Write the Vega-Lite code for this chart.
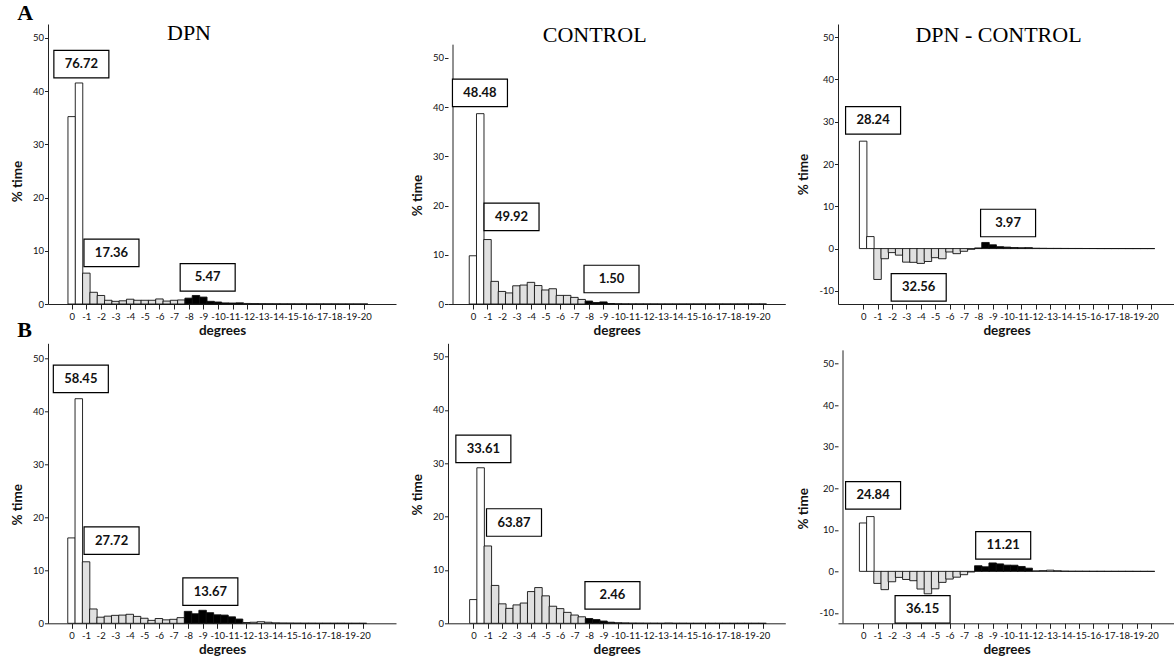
{
  "$schema": "https://vega.github.io/schema/vega-lite/v6.json",
  "padding": {"left": 10, "top": 1, "right": 0, "bottom": 0},
  "background": "white",
  "config": {
    "view": {"stroke": null},
    "title": {"font": "Liberation Serif", "fontSize": 22, "fontWeight": "normal", "color": "#000", "anchor": "middle", "frame": "group", "baseline": "alphabetic"},
    "axis": {"domainColor": "#222", "tickColor": "#222", "labelColor": "#111", "titleColor": "#111", "labelFont": "Lato", "titleFont": "Lato", "labelFontSize": 9.5, "titleFontSize": 13.5, "titleFontWeight": "bold", "grid": false, "labelOverlap": false, "labelFlush": false},
    "axisX": {"tickSize": 5, "labelPadding": 2, "titlePadding": 3, "tickCount": 25},
    "axisY": {"tickSize": 3.5, "labelPadding": 1, "titlePadding": 8, "tickCount": 10}
  },
  "datasets": {
    "A_DPN": [{"deg":0,"pct":35.2},{"deg":-0.5,"pct":41.52},{"deg":-1,"pct":5.8},{"deg":-1.5,"pct":2.2},{"deg":-2,"pct":1.6},{"deg":-2.5,"pct":0.7},{"deg":-3,"pct":0.5},{"deg":-3.5,"pct":0.6},{"deg":-4,"pct":0.9},{"deg":-4.5,"pct":0.7},{"deg":-5,"pct":0.7},{"deg":-5.5,"pct":0.7},{"deg":-6,"pct":0.95},{"deg":-6.5,"pct":0.55},{"deg":-7,"pct":0.7},{"deg":-7.5,"pct":0.76},{"deg":-8,"pct":1.1},{"deg":-8.5,"pct":1.6},{"deg":-9,"pct":1.3},{"deg":-9.5,"pct":0.5},{"deg":-10,"pct":0.37},{"deg":-10.5,"pct":0.2},{"deg":-11,"pct":0.18},{"deg":-11.5,"pct":0.22},{"deg":-12,"pct":0.1},{"deg":-12.5,"pct":0.08},{"deg":-13,"pct":0.06},{"deg":-13.5,"pct":0.05},{"deg":-14,"pct":0.04},{"deg":-14.5,"pct":0.03},{"deg":-15,"pct":0.03},{"deg":-15.5,"pct":0.02},{"deg":-16,"pct":0.02},{"deg":-16.5,"pct":0.01},{"deg":-17,"pct":0.01},{"deg":-17.5,"pct":0.01},{"deg":-18,"pct":0.01},{"deg":-18.5,"pct":0},{"deg":-19,"pct":0},{"deg":-19.5,"pct":0},{"deg":-20,"pct":0}],
    "A_CONTROL": [{"deg":0,"pct":9.8},{"deg":-0.5,"pct":38.68},{"deg":-1,"pct":13.1},{"deg":-1.5,"pct":4.6},{"deg":-2,"pct":2.55},{"deg":-2.5,"pct":2.25},{"deg":-3,"pct":3.7},{"deg":-3.5,"pct":3.85},{"deg":-4,"pct":4.4},{"deg":-4.5,"pct":3.75},{"deg":-5,"pct":2.85},{"deg":-5.5,"pct":3.1},{"deg":-6,"pct":1.75},{"deg":-6.5,"pct":1.75},{"deg":-7,"pct":1.34},{"deg":-7.5,"pct":0.93},{"deg":-8,"pct":0.6},{"deg":-8.5,"pct":0.3},{"deg":-9,"pct":0.42},{"deg":-9.5,"pct":0.1},{"deg":-10,"pct":0.04},{"deg":-10.5,"pct":0.02},{"deg":-11,"pct":0.01},{"deg":-11.5,"pct":0.01},{"deg":-12,"pct":0.01},{"deg":-12.5,"pct":0.01},{"deg":-13,"pct":0},{"deg":-13.5,"pct":0},{"deg":-14,"pct":0},{"deg":-14.5,"pct":0},{"deg":-15,"pct":0},{"deg":-15.5,"pct":0},{"deg":-16,"pct":0},{"deg":-16.5,"pct":0},{"deg":-17,"pct":0},{"deg":-17.5,"pct":0},{"deg":-18,"pct":0},{"deg":-18.5,"pct":0},{"deg":-19,"pct":0},{"deg":-19.5,"pct":0},{"deg":-20,"pct":0}],
    "A_DIFF": [{"deg":0,"pct":25.4},{"deg":-0.5,"pct":2.84},{"deg":-1,"pct":-7.3},{"deg":-1.5,"pct":-2.4},{"deg":-2,"pct":-0.95},{"deg":-2.5,"pct":-1.55},{"deg":-3,"pct":-3.2},{"deg":-3.5,"pct":-3.25},{"deg":-4,"pct":-3.5},{"deg":-4.5,"pct":-3.05},{"deg":-5,"pct":-2.15},{"deg":-5.5,"pct":-2.4},{"deg":-6,"pct":-0.8},{"deg":-6.5,"pct":-1.2},{"deg":-7,"pct":-0.64},{"deg":-7.5,"pct":-0.17},{"deg":-8,"pct":0.15},{"deg":-8.5,"pct":1.45},{"deg":-9,"pct":0.9},{"deg":-9.5,"pct":0.45},{"deg":-10,"pct":0.35},{"deg":-10.5,"pct":0.25},{"deg":-11,"pct":0.2},{"deg":-11.5,"pct":0.22},{"deg":-12,"pct":0.09},{"deg":-12.5,"pct":0.07},{"deg":-13,"pct":0.05},{"deg":-13.5,"pct":0.05},{"deg":-14,"pct":0.04},{"deg":-14.5,"pct":0.03},{"deg":-15,"pct":0.03},{"deg":-15.5,"pct":0.02},{"deg":-16,"pct":0.02},{"deg":-16.5,"pct":0.01},{"deg":-17,"pct":0.01},{"deg":-17.5,"pct":0.01},{"deg":-18,"pct":0.01},{"deg":-18.5,"pct":0},{"deg":-19,"pct":0},{"deg":-19.5,"pct":0},{"deg":-20,"pct":0}],
    "B_DPN": [{"deg":0,"pct":16.1},{"deg":-0.5,"pct":42.35},{"deg":-1,"pct":11.6},{"deg":-1.5,"pct":2.7},{"deg":-2,"pct":1.15},{"deg":-2.5,"pct":1.35},{"deg":-3,"pct":1.5},{"deg":-3.5,"pct":1.55},{"deg":-4,"pct":1.7},{"deg":-4.5,"pct":1.3},{"deg":-5,"pct":0.95},{"deg":-5.5,"pct":0.55},{"deg":-6,"pct":0.9},{"deg":-6.5,"pct":0.65},{"deg":-7,"pct":0.75},{"deg":-7.5,"pct":1.07},{"deg":-8,"pct":2.25},{"deg":-8.5,"pct":1.8},{"deg":-9,"pct":2.45},{"deg":-9.5,"pct":2.0},{"deg":-10,"pct":1.6},{"deg":-10.5,"pct":1.55},{"deg":-11,"pct":1.22},{"deg":-11.5,"pct":0.8},{"deg":-12,"pct":0.15},{"deg":-12.5,"pct":0.2},{"deg":-13,"pct":0.3},{"deg":-13.5,"pct":0.2},{"deg":-14,"pct":0.08},{"deg":-14.5,"pct":0.05},{"deg":-15,"pct":0.04},{"deg":-15.5,"pct":0.03},{"deg":-16,"pct":0.02},{"deg":-16.5,"pct":0.02},{"deg":-17,"pct":0.01},{"deg":-17.5,"pct":0.01},{"deg":-18,"pct":0.01},{"deg":-18.5,"pct":0.01},{"deg":-19,"pct":0},{"deg":-19.5,"pct":0},{"deg":-20,"pct":0}],
    "B_CONTROL": [{"deg":0,"pct":4.45},{"deg":-0.5,"pct":29.16},{"deg":-1,"pct":14.5},{"deg":-1.5,"pct":7.1},{"deg":-2,"pct":3.65},{"deg":-2.5,"pct":2.8},{"deg":-3,"pct":3.45},{"deg":-3.5,"pct":3.8},{"deg":-4,"pct":5.95},{"deg":-4.5,"pct":6.7},{"deg":-5,"pct":5.15},{"deg":-5.5,"pct":3.2},{"deg":-6,"pct":2.75},{"deg":-6.5,"pct":2.05},{"deg":-7,"pct":1.55},{"deg":-7.5,"pct":1.22},{"deg":-8,"pct":0.9},{"deg":-8.5,"pct":0.7},{"deg":-9,"pct":0.42},{"deg":-9.5,"pct":0.2},{"deg":-10,"pct":0.1},{"deg":-10.5,"pct":0.07},{"deg":-11,"pct":0.04},{"deg":-11.5,"pct":0.03},{"deg":-12,"pct":0.02},{"deg":-12.5,"pct":0.02},{"deg":-13,"pct":0.01},{"deg":-13.5,"pct":0.05},{"deg":-14,"pct":0.01},{"deg":-14.5,"pct":0.01},{"deg":-15,"pct":0},{"deg":-15.5,"pct":0},{"deg":-16,"pct":0},{"deg":-16.5,"pct":0},{"deg":-17,"pct":0},{"deg":-17.5,"pct":0},{"deg":-18,"pct":0},{"deg":-18.5,"pct":0},{"deg":-19,"pct":0},{"deg":-19.5,"pct":0},{"deg":-20,"pct":0}],
    "B_DIFF": [{"deg":0,"pct":11.65},{"deg":-0.5,"pct":13.19},{"deg":-1,"pct":-2.9},{"deg":-1.5,"pct":-4.4},{"deg":-2,"pct":-2.5},{"deg":-2.5,"pct":-1.45},{"deg":-3,"pct":-1.95},{"deg":-3.5,"pct":-2.25},{"deg":-4,"pct":-4.25},{"deg":-4.5,"pct":-5.4},{"deg":-5,"pct":-4.2},{"deg":-5.5,"pct":-2.65},{"deg":-6,"pct":-1.85},{"deg":-6.5,"pct":-1.4},{"deg":-7,"pct":-0.8},{"deg":-7.5,"pct":-0.15},{"deg":-8,"pct":1.35},{"deg":-8.5,"pct":1.1},{"deg":-9,"pct":2.03},{"deg":-9.5,"pct":1.8},{"deg":-10,"pct":1.5},{"deg":-10.5,"pct":1.48},{"deg":-11,"pct":1.18},{"deg":-11.5,"pct":0.77},{"deg":-12,"pct":0.13},{"deg":-12.5,"pct":0.18},{"deg":-13,"pct":0.29},{"deg":-13.5,"pct":0.15},{"deg":-14,"pct":0.07},{"deg":-14.5,"pct":0.04},{"deg":-15,"pct":0.04},{"deg":-15.5,"pct":0.03},{"deg":-16,"pct":0.02},{"deg":-16.5,"pct":0.02},{"deg":-17,"pct":0.01},{"deg":-17.5,"pct":0.01},{"deg":-18,"pct":0.01},{"deg":-18.5,"pct":0.01},{"deg":-19,"pct":0},{"deg":-19.5,"pct":0},{"deg":-20,"pct":0}],
    "A_DPN_lab": [{"deg":-0.66,"pct":45.06,"label":"76.72"},{"deg":-2.72,"pct":9.62,"label":"17.36"},{"deg":-9.3,"pct":5.02,"label":"5.47"}],
    "A_CONTROL_lab": [{"deg":-0.48,"pct":42.9,"label":"48.48"},{"deg":-2.66,"pct":17.7,"label":"49.92"},{"deg":-9.56,"pct":5.08,"label":"1.50"}],
    "A_DIFF_lab": [{"deg":-0.69,"pct":30.3,"label":"28.24"},{"deg":-3.86,"pct":-9.15,"label":"32.56"},{"deg":-10.07,"pct":6.05,"label":"3.97"}],
    "B_DPN_lab": [{"deg":-0.64,"pct":46.1,"label":"58.45"},{"deg":-2.75,"pct":15.6,"label":"27.72"},{"deg":-9.53,"pct":5.98,"label":"13.67"}],
    "B_CONTROL_lab": [{"deg":-0.69,"pct":32.7,"label":"33.61"},{"deg":-2.81,"pct":18.9,"label":"63.87"},{"deg":-9.62,"pct":5.25,"label":"2.46"}],
    "B_DIFF_lab": [{"deg":-0.69,"pct":18.3,"label":"24.84"},{"deg":-4.13,"pct":-9.16,"label":"36.15"},{"deg":-9.73,"pct":6.27,"label":"11.21"}]
  },
  "columns": 3,
  "spacing": {"row": 39.3, "column": 52},
  "bounds": "flush",
  "concat": [
    {
      "width": 348, "height": 280,
      "title": {"text": "DPN", "dx": -33, "offset": -43},
      "layer": [
        {"data": {"name": "A_DPN"},
         "mark": {"type": "bar", "orient": "vertical", "size": 7.5, "stroke": "#111", "strokeWidth": 0.9},
         "encoding": {
           "x": {"field": "deg", "type": "quantitative", "title": "degrees", "scale": {"domain": [1.28, -21.84], "nice": false, "zero": false}, "axis": {"values": [0,-1,-2,-3,-4,-5,-6,-7,-8,-9,-10,-11,-12,-13,-14,-15,-16,-17,-18,-19,-20], "labelExpr": "'' + datum.value", "labelOverlap": false, "tickCount": 25}},
           "y": {"field": "pct", "type": "quantitative", "title": "% time", "scale": {"domain": [0, 52.6], "nice": false, "zero": false}, "axis": {"values": [0,10,20,30,40,50], "labelExpr": "'' + datum.value", "labelOverlap": false, "titleY": 157}},
           "fill": {"condition": [{"test": "datum.deg <= -1 && datum.deg >= -7.5", "value": "#e0e0e0"}, {"test": "datum.deg <= -8 && datum.deg >= -11.5", "value": "#000000"}], "value": "#ffffff"}
         }},
        {"data": {"values": [{}]},
         "mark": {"type": "text", "font": "Liberation Serif", "fontWeight": "bold", "fontSize": 22, "align": "left", "baseline": "alphabetic", "color": "#000"},
         "encoding": {"x": {"datum": 3.72, "type": "quantitative"}, "y": {"datum": 53.43, "type": "quantitative"}, "text": {"value": "A"}}},
        {"data": {"name": "A_DPN_lab"},
         "mark": {"type": "point", "shape": "M-1,-0.5H1V0.5H-1Z", "size": 3025, "filled": true, "fill": "white", "stroke": "black", "strokeWidth": 1.2, "opacity": 1},
         "encoding": {"x": {"field": "deg", "type": "quantitative", "title": "degrees"}, "y": {"field": "pct", "type": "quantitative", "title": "% time"}}},
        {"data": {"name": "A_DPN_lab"},
         "mark": {"type": "text", "font": "Lato", "fontWeight": "bold", "fontSize": 13, "color": "#111", "baseline": "middle", "align": "center"},
         "encoding": {"x": {"field": "deg", "type": "quantitative", "title": "degrees"}, "y": {"field": "pct", "type": "quantitative", "title": "% time"}, "text": {"field": "label"}}}
      ]
    },
    {
      "width": 337.3, "height": 280,
      "title": {"text": "CONTROL", "dx": -22, "offset": -23},
      "layer": [
        {"data": {"name": "A_CONTROL"},
         "mark": {"type": "bar", "orient": "vertical", "size": 7.5, "stroke": "#111", "strokeWidth": 0.9},
         "encoding": {
           "x": {"field": "deg", "type": "quantitative", "title": "degrees", "scale": {"domain": [1.38, -21.21], "nice": false, "zero": false}, "axis": {"values": [0,-1,-2,-3,-4,-5,-6,-7,-8,-9,-10,-11,-12,-13,-14,-15,-16,-17,-18,-19,-20], "labelExpr": "'' + datum.value", "labelOverlap": false, "tickCount": 25}},
           "y": {"field": "pct", "type": "quantitative", "title": "% time", "scale": {"domain": [0, 56.9], "nice": false, "zero": false}, "axis": {"values": [0,10,20,30,40,50], "labelExpr": "'' + datum.value", "labelOverlap": false, "titleY": 171, "domain": false}},
           "fill": {"condition": [{"test": "datum.deg <= -1 && datum.deg >= -7.5", "value": "#e0e0e0"}, {"test": "datum.deg <= -8 && datum.deg >= -11.5", "value": "#000000"}], "value": "#ffffff"}
         }},
        {"data": {"values": [{}]},
         "mark": {"type": "rule", "color": "#222", "strokeWidth": 1},
         "encoding": {"x": {"datum": 1.38, "type": "quantitative"}, "y": {"datum": 0, "type": "quantitative"}, "y2": {"datum": 52.7}}},
        {"data": {"name": "A_CONTROL_lab"},
         "mark": {"type": "point", "shape": "M-1,-0.5H1V0.5H-1Z", "size": 3025, "filled": true, "fill": "white", "stroke": "black", "strokeWidth": 1.2, "opacity": 1},
         "encoding": {"x": {"field": "deg", "type": "quantitative", "title": "degrees"}, "y": {"field": "pct", "type": "quantitative", "title": "% time"}}},
        {"data": {"name": "A_CONTROL_lab"},
         "mark": {"type": "text", "font": "Lato", "fontWeight": "bold", "fontSize": 13, "color": "#111", "baseline": "middle", "align": "center"},
         "encoding": {"x": {"field": "deg", "type": "quantitative", "title": "degrees"}, "y": {"field": "pct", "type": "quantitative", "title": "% time"}, "text": {"field": "label"}}}
      ]
    },
    {
      "width": 337, "height": 280,
      "title": {"text": "DPN - CONTROL", "dx": -8, "offset": -23},
      "layer": [
        {"data": {"name": "A_DIFF"},
         "mark": {"type": "bar", "orient": "vertical", "size": 7.5, "stroke": "#111", "strokeWidth": 0.9},
         "encoding": {
           "x": {"field": "deg", "type": "quantitative", "title": "degrees", "scale": {"domain": [1.4, -21.32], "nice": false, "zero": false}, "axis": {"values": [0,-1,-2,-3,-4,-5,-6,-7,-8,-9,-10,-11,-12,-13,-14,-15,-16,-17,-18,-19,-20], "labelExpr": "'' + datum.value", "labelOverlap": false, "tickCount": 25}},
           "y": {"field": "pct", "type": "quantitative", "title": "% time", "scale": {"domain": [-13.1, 53.1], "nice": false, "zero": false}, "axis": {"values": [-10,0,10,20,30,40,50], "labelExpr": "'' + datum.value", "labelOverlap": false, "titleY": 150}},
           "fill": {"condition": [{"test": "datum.deg <= -1 && datum.deg >= -7.5", "value": "#e0e0e0"}, {"test": "datum.deg <= -8 && datum.deg >= -11.5", "value": "#000000"}], "value": "#ffffff"}
         }},
        {"data": {"name": "A_DIFF_lab"},
         "mark": {"type": "point", "shape": "M-1,-0.5H1V0.5H-1Z", "size": 3025, "filled": true, "fill": "white", "stroke": "black", "strokeWidth": 1.2, "opacity": 1},
         "encoding": {"x": {"field": "deg", "type": "quantitative", "title": "degrees"}, "y": {"field": "pct", "type": "quantitative", "title": "% time"}}},
        {"data": {"name": "A_DIFF_lab"},
         "mark": {"type": "text", "font": "Lato", "fontWeight": "bold", "fontSize": 13, "color": "#111", "baseline": "middle", "align": "center"},
         "encoding": {"x": {"field": "deg", "type": "quantitative", "title": "degrees"}, "y": {"field": "pct", "type": "quantitative", "title": "% time"}, "text": {"field": "label"}}}
      ]
    },
    {
      "width": 348, "height": 280,
      "layer": [
        {"data": {"name": "B_DPN"},
         "mark": {"type": "bar", "orient": "vertical", "size": 7.5, "stroke": "#111", "strokeWidth": 0.9},
         "encoding": {
           "x": {"field": "deg", "type": "quantitative", "title": "degrees", "scale": {"domain": [1.27, -21.93], "nice": false, "zero": false}, "axis": {"values": [0,-1,-2,-3,-4,-5,-6,-7,-8,-9,-10,-11,-12,-13,-14,-15,-16,-17,-18,-19,-20], "labelExpr": "'' + datum.value", "labelOverlap": false, "tickCount": 25}},
           "y": {"field": "pct", "type": "quantitative", "title": "% time", "scale": {"domain": [0, 52.8], "nice": false, "zero": false}, "axis": {"values": [0,10,20,30,40,50], "labelExpr": "'' + datum.value", "labelOverlap": false, "titleY": 161}},
           "fill": {"condition": [{"test": "datum.deg <= -1 && datum.deg >= -7.5", "value": "#e0e0e0"}, {"test": "datum.deg <= -8 && datum.deg >= -11.5", "value": "#000000"}], "value": "#ffffff"}
         }},
        {"data": {"values": [{}]},
         "mark": {"type": "text", "font": "Liberation Serif", "fontWeight": "bold", "fontSize": 22, "align": "left", "baseline": "alphabetic", "color": "#000"},
         "encoding": {"x": {"datum": 3.72, "type": "quantitative"}, "y": {"datum": 53.93, "type": "quantitative"}, "text": {"value": "B"}}},
        {"data": {"name": "B_DPN_lab"},
         "mark": {"type": "point", "shape": "M-1,-0.5H1V0.5H-1Z", "size": 3025, "filled": true, "fill": "white", "stroke": "black", "strokeWidth": 1.2, "opacity": 1},
         "encoding": {"x": {"field": "deg", "type": "quantitative", "title": "degrees"}, "y": {"field": "pct", "type": "quantitative", "title": "% time"}}},
        {"data": {"name": "B_DPN_lab"},
         "mark": {"type": "text", "font": "Lato", "fontWeight": "bold", "fontSize": 13, "color": "#111", "baseline": "middle", "align": "center"},
         "encoding": {"x": {"field": "deg", "type": "quantitative", "title": "degrees"}, "y": {"field": "pct", "type": "quantitative", "title": "% time"}, "text": {"field": "label"}}}
      ]
    },
    {
      "width": 337.3, "height": 280,
      "layer": [
        {"data": {"name": "B_CONTROL"},
         "mark": {"type": "bar", "orient": "vertical", "size": 7.5, "stroke": "#111", "strokeWidth": 0.9},
         "encoding": {
           "x": {"field": "deg", "type": "quantitative", "title": "degrees", "scale": {"domain": [1.41, -21.23], "nice": false, "zero": false}, "axis": {"values": [0,-1,-2,-3,-4,-5,-6,-7,-8,-9,-10,-11,-12,-13,-14,-15,-16,-17,-18,-19,-20], "labelExpr": "'' + datum.value", "labelOverlap": false, "tickCount": 25}},
           "y": {"field": "pct", "type": "quantitative", "title": "% time", "scale": {"domain": [0, 52.5], "nice": false, "zero": false}, "axis": {"values": [0,10,20,30,40,50], "labelExpr": "'' + datum.value", "labelOverlap": false, "titleY": 151}},
           "fill": {"condition": [{"test": "datum.deg <= -1 && datum.deg >= -7.5", "value": "#e0e0e0"}, {"test": "datum.deg <= -8 && datum.deg >= -11.5", "value": "#000000"}], "value": "#ffffff"}
         }},
        {"data": {"name": "B_CONTROL_lab"},
         "mark": {"type": "point", "shape": "M-1,-0.5H1V0.5H-1Z", "size": 3025, "filled": true, "fill": "white", "stroke": "black", "strokeWidth": 1.2, "opacity": 1},
         "encoding": {"x": {"field": "deg", "type": "quantitative", "title": "degrees"}, "y": {"field": "pct", "type": "quantitative", "title": "% time"}}},
        {"data": {"name": "B_CONTROL_lab"},
         "mark": {"type": "text", "font": "Lato", "fontWeight": "bold", "fontSize": 13, "color": "#111", "baseline": "middle", "align": "center"},
         "encoding": {"x": {"field": "deg", "type": "quantitative", "title": "degrees"}, "y": {"field": "pct", "type": "quantitative", "title": "% time"}, "text": {"field": "label"}}}
      ]
    },
    {
      "width": 337, "height": 280,
      "layer": [
        {"data": {"name": "B_DIFF"},
         "mark": {"type": "bar", "orient": "vertical", "size": 7.5, "stroke": "#111", "strokeWidth": 0.9},
         "encoding": {
           "x": {"field": "deg", "type": "quantitative", "title": "degrees", "scale": {"domain": [1.4, -21.32], "nice": false, "zero": false}, "axis": {"values": [0,-1,-2,-3,-4,-5,-6,-7,-8,-9,-10,-11,-12,-13,-14,-15,-16,-17,-18,-19,-20], "labelExpr": "'' + datum.value", "labelOverlap": false, "tickCount": 25}},
           "y": {"field": "pct", "type": "quantitative", "title": "% time", "scale": {"domain": [-12.5, 54.9], "nice": false, "zero": false}, "axis": {"values": [-10,0,10,20,30,40,50], "labelExpr": "'' + datum.value", "labelOverlap": false, "titleY": 165, "domain": false}},
           "fill": {"condition": [{"test": "datum.deg <= -1 && datum.deg >= -7.5", "value": "#e0e0e0"}, {"test": "datum.deg <= -8 && datum.deg >= -11.5", "value": "#000000"}], "value": "#ffffff"}
         }},
        {"data": {"values": [{}]},
         "mark": {"type": "rule", "color": "#222", "strokeWidth": 1},
         "encoding": {"x": {"datum": 1.4, "type": "quantitative"}, "y": {"datum": -12.5, "type": "quantitative"}, "y2": {"datum": 53.2}}},
        {"data": {"name": "B_DIFF_lab"},
         "mark": {"type": "point", "shape": "M-1,-0.5H1V0.5H-1Z", "size": 3025, "filled": true, "fill": "white", "stroke": "black", "strokeWidth": 1.2, "opacity": 1},
         "encoding": {"x": {"field": "deg", "type": "quantitative", "title": "degrees"}, "y": {"field": "pct", "type": "quantitative", "title": "% time"}}},
        {"data": {"name": "B_DIFF_lab"},
         "mark": {"type": "text", "font": "Lato", "fontWeight": "bold", "fontSize": 13, "color": "#111", "baseline": "middle", "align": "center"},
         "encoding": {"x": {"field": "deg", "type": "quantitative", "title": "degrees"}, "y": {"field": "pct", "type": "quantitative", "title": "% time"}, "text": {"field": "label"}}}
      ]
    }
  ]
}
